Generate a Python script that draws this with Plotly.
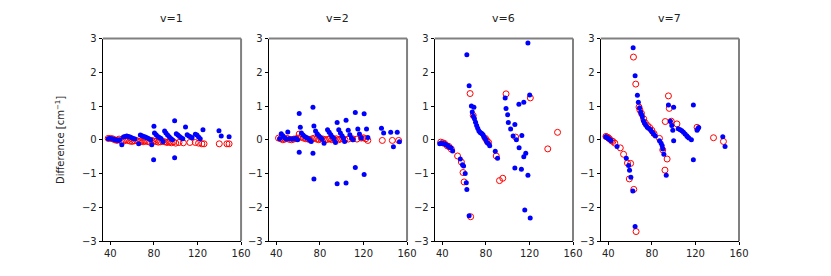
import plotly.graph_objects as go

titles = ["v=1", "v=2", "v=6", "v=7"]
x_ticks = [40, 80, 120, 160]
y_ticks = [-3, -2, -1, 0, 1, 2, 3]

# ---- v=1 ----
v1_blue_x = [38, 39.5, 41, 42.5, 44, 45.5, 47, 48.5, 50.5,
             52, 53.5, 55, 56.5, 58, 59.5, 61, 62.5, 66,
             67.5, 69, 70.5, 72, 73.5, 75, 77, 78,
             80, 80.5, 82, 83.5, 85, 86.5, 79.7,
             88.3, 89.8, 91, 92.5, 94, 95.5, 97,
             99, 99, 100.5, 102, 103.5, 105, 106.5,
             109, 110.5, 112, 113.5, 115,
             118, 119.5, 121, 122.5, 125,
             139.7, 141.8, 149]
v1_blue_y = [0.03, 0.04, 0.03, 0.02, 0.0, -0.01, -0.02, 0.0, -0.15,
             0.08, 0.1, 0.11, 0.1, 0.08, 0.06, 0.04, 0.02, -0.12,
             0.14, 0.12, 0.1, 0.08, 0.06, 0.04, 0.0, -0.15,
             0.40, 0.2, 0.15, 0.1, 0.07, 0.04, -0.59,
             -0.05, 0.26, 0.2, 0.14, 0.09, 0.04, 0.0,
             0.56, -0.53, 0.18, 0.14, 0.1, 0.06, 0.03,
             0.38, 0.15, 0.11, 0.09, 0.06,
             0.16, 0.14, 0.08, 0.03, 0.30,
             0.27, 0.11, 0.09]
v1_red_x = [38, 40, 42, 44, 46, 48, 50, 52, 54, 56, 58, 60, 62, 64, 66, 68, 70,
            72, 74, 76, 78, 80, 82, 84, 86, 88, 90, 92, 94, 96, 98, 100, 103,
            107, 113, 118, 121, 124, 126, 140, 147, 149]
v1_red_y = [0.04, 0.04, 0.03, 0.0, -0.02, 0.02, -0.03, -0.04, -0.01, -0.02,
            -0.04, -0.05, -0.03, -0.02, -0.05, -0.04, -0.06, -0.04, -0.05, -0.07,
            -0.02, -0.04, -0.05, -0.07, -0.06, -0.05, -0.06, -0.08, -0.07, -0.09,
            -0.06, -0.1, -0.08, -0.09, -0.08, -0.08, -0.1, -0.12, -0.12, -0.12,
            -0.12, -0.12]

# ---- v=2 ----
v2_blue_x = [43, 44.5, 46, 47.5, 49, 50.5, 52, 54, 56, 58, 59.5,
             61, 61, 62, 63, 64.5, 66, 67.5, 69, 70.5, 72,
             73.6, 73.6, 74.5, 74.5, 76, 77.5, 79, 80.5, 82, 83.8,
             87, 88.5, 90, 91.5, 93, 94.3,
             95.8, 95.8, 97.3, 98.8, 100.3, 101.5, 102.7,
             104, 104, 106, 107.5, 109, 110.5,
             112.5, 112.5, 114.8, 116.3, 118,
             120.6, 120.6, 122.8, 124,
             136.5, 138.5, 145, 147.5, 151, 153]
v2_blue_y = [0.03, 0.18, 0.12, 0.06, 0.02, 0.23, 0.03, 0.02, 0.03, 0.04, 0.0,
             0.78, -0.37, 0.37, 0.2, 0.14, 0.1, 0.07, 0.04, 0.0, -0.05,
             0.96, -0.40, -1.16, 0.41, 0.26, 0.18, 0.12, 0.07, 0.02, -0.1,
             0.30, 0.22, 0.15, 0.08, 0.02, -0.08,
             0.51, -1.30, 0.30, 0.2, 0.12, 0.05, -0.05,
             0.58, -1.28, 0.28, 0.15, 0.05, 0.0,
             0.81, -0.82, 0.32, 0.17, 0.05,
             0.77, -1.03, 0.32, 0.07,
             0.34, 0.2, 0.22, -0.21, 0.22, -0.06]
v2_red_x = [42, 44, 46, 48, 50, 52, 54, 56, 58, 60, 61, 63, 65, 67, 69, 71, 73,
            75, 77, 79, 81, 83, 85, 87, 89, 91, 93, 95, 97, 99, 101, 103, 106,
            110, 114, 118, 120, 122, 124, 137.3, 146.5, 152.3]
v2_red_y = [0.05, 0.03, 0.0, 0.02, 0.04, 0.01, 0.0, 0.02, 0.03, 0.05, 0.17,
            0.08, 0.05, 0.03, 0.02, 0.0, 0.03, 0.05, 0.02, 0.0, 0.03, 0.02, 0.0,
            0.01, 0.03, 0.0, 0.02, 0.03, 0.0, 0.02, 0.03, 0.0, 0.02, 0.03, 0.02,
            0.05, 0.06, 0.03, -0.02, -0.02, -0.02, -0.02]

# ---- v=6 ----
v6_blue_x = [37.6, 39, 40.5, 42, 43.5, 45, 46.5, 48, 49.5,
             56.5, 58.5, 59.5, 61, 62, 62.5,
             62.5, 64.6, 66.7, 69, 67.5, 68.5, 69.5, 70.5, 71.5, 72.5, 73.5,
             74.5, 75.5, 76.5, 77.5, 78, 79, 80, 81, 82.5, 83.5,
             64.6, 88.6, 90.7,
             97.7, 98.5, 100, 100.6, 102.7, 105, 106.6, 108,
             106.6, 112.6, 110.3, 114.8, 110.5, 113, 114.8, 116.6, 115.7,
             118.6, 118.6, 120.2, 120.7]
v6_blue_y = [-0.12, -0.10, -0.11, -0.12, -0.15, -0.18, -0.22, -0.24, -0.33,
             -0.57, -0.74, -0.78, -1.0, -1.27, -1.47,
             2.52, 1.60, 1.0, 0.96, 0.82, 0.7, 0.62, 0.52, 0.42, 0.34, 0.27,
             0.22, 0.2, 0.18, 0.14, 0.09, 0.05, 0.0, -0.08, -0.12, -0.18,
             -2.25, -0.34, -0.55,
             1.24, 0.93, 0.74, 0.51, 0.32, 0.11, 0.45, 0.0,
             -0.84, -0.87, 1.05, 1.11, -0.24, 0.13, -0.50, -0.40, -2.08,
             2.87, -1.05, 1.33, -2.32]
v6_red_x = [38.5, 40.5, 42, 44.5, 46, 48.3, 54, 57.5, 59, 60, 65.5, 68.4, 66,
            79.6, 81, 82.5, 89.5, 92.5, 95.5, 98.5, 107.3, 120.8, 136.8, 145.8]
v6_red_y = [-0.07, -0.09, -0.11, -0.18, -0.2, -0.28, -0.48, -0.66, -0.97, -1.25,
            1.37, 0.72, -2.28, 0.04, -0.03, -0.08, -0.48, -1.21, -1.14, 1.36,
            0.08, 1.24, -0.27, 0.22]

# ---- v=7 ----
v7_blue_x = [37.6, 38.5, 39.5, 40.5, 41.5, 42.5, 48, 56.5, 58.6, 59.5, 60.7,
             62.5, 64.6,
             62.8, 64.6, 66.7, 67.6, 68.7, 69.7, 70.5, 71.3, 72.2, 73.3, 74.3,
             75.8, 77, 78.7, 80, 81.5, 83.2, 87, 88.5, 89.5, 90, 91, 93.2,
             95.2, 100, 98.3, 97, 99.2, 100, 104.2, 106, 107.5, 109, 110.5, 112,
             112.7, 114, 116.3, 118.1, 118.1, 121.5, 122.2, 123, 145.1, 147.2]
v7_blue_y = [0.09, 0.07, 0.05, 0.02, 0.0, -0.03, -0.2, -0.55, -0.76, -0.9, -1.11,
             -1.52, -2.57,
             2.73, 1.9, 1.32, 1.11, 0.95, 0.82, 0.75, 0.68, 0.56, 0.5, 0.44,
             0.37, 0.34, 0.30, 0.24, 0.18, 0.11, -0.03, -0.1, -0.18, -0.27, -0.43,
             -1.05,
             1.03, 0.96, 0.42, 0.55, 0.28, -0.03, 0.33, 0.3, 0.27, 0.22, 0.17, 0.12,
             0.09, 0.05, 0.0, 1.03, -0.59, 0.28, 0.33, 0.36, 0.09, -0.2]
v7_red_x = [37.8, 39, 40, 41, 43, 44.2, 46, 51, 54, 57.6, 59.3, 60.5, 63.4, 65.5,
            63.1, 65.2, 68.2, 69, 70.5, 72.5, 74, 76, 78, 80, 82, 87, 90, 92, 94,
            95.2, 96, 92.3, 97.8, 103, 121.5, 136.6, 145.7]
v7_red_y = [0.1, 0.08, 0.06, 0.03, -0.03, -0.05, -0.1, -0.24, -0.43, -0.69, -1.16,
            -0.70, -1.47, -2.72,
            2.45, 1.65, 0.97, 0.88, 0.78, 0.62, 0.5, 0.42, 0.36, 0.28, 0.18, 0.04,
            -0.3, -0.9, -0.57, 1.30, 0.93, 0.54, 0.55, 0.47, 0.37, 0.06, -0.05]

blue_x = [v1_blue_x, v2_blue_x, v6_blue_x, v7_blue_x]
blue_y = [v1_blue_y, v2_blue_y, v6_blue_y, v7_blue_y]
red_x = [v1_red_x, v2_red_x, v6_red_x, v7_red_x]
red_y = [v1_red_y, v2_red_y, v6_red_y, v7_red_y]

W, H = 831, 276
lefts = [104, 272, 440, 608]
pw = 140
top_px, bot_px = 34, 245.7

fig = go.Figure()
font = dict(family="DejaVu Sans", size=10, color="#222222")

for i in range(4):
    xa = "x" if i == 0 else f"x{i+1}"
    ya = "y" if i == 0 else f"y{i+1}"
    n = min(len(red_x[i]), len(red_y[i]))
    fig.add_trace(go.Scatter(x=red_x[i][:n], y=red_y[i][:n], mode="markers",
                             xaxis=xa, yaxis=ya, showlegend=False,
                             marker=dict(symbol="circle-open", size=6, color="red",
                                         line=dict(width=1, color="red"))))
    n = min(len(blue_x[i]), len(blue_y[i]))
    fig.add_trace(go.Scatter(x=blue_x[i][:n], y=blue_y[i][:n], mode="markers",
                             xaxis=xa, yaxis=ya, showlegend=False,
                             marker=dict(symbol="circle", size=5, color="blue",
                                         line=dict(width=0))))
    d0 = lefts[i] / W
    d1 = (lefts[i] + pw) / W
    axx = dict(domain=[d0, d1], range=[33, 160], tickmode="array",
               tickvals=x_ticks, ticktext=[str(t) for t in x_ticks],
               showgrid=False, zeroline=False, showline=True, linecolor="#000000",
               linewidth=1, ticks="outside", ticklen=3, tickcolor="#000000",
               tickfont=font, anchor=ya, fixedrange=True)
    axy = dict(domain=[1 - bot_px / H, 1 - top_px / H], range=[-3, 3],
               tickmode="array", tickvals=y_ticks,
               ticktext=[("\u2212" + str(-t)) if t < 0 else str(t) for t in y_ticks],
               showgrid=False, zeroline=False, showline=True, linecolor="#000000",
               linewidth=1, ticks="outside", ticklen=3, tickcolor="#000000",
               tickfont=font, anchor=xa, fixedrange=True)
    key = "" if i == 0 else str(i + 1)
    fig.layout["xaxis" + key] = axx
    fig.layout["yaxis" + key] = axy
    # gray top and right frame
    fig.add_shape(type="line", xref=f"{xa} domain", yref=f"{ya} domain",
                  x0=0, x1=1, y0=1, y1=1, line=dict(color="#808080", width=2))
    fig.add_shape(type="line", xref=f"{xa} domain", yref=f"{ya} domain",
                  x0=1, x1=1, y0=0, y1=1, line=dict(color="#808080", width=2))
    fig.add_annotation(text=titles[i], xref="paper", yref="paper",
                       x=(lefts[i] + pw / 2) / W, y=1 - 13 / H, showarrow=False,
                       font=dict(family="DejaVu Sans", size=11, color="#222222"),
                       xanchor="center", yanchor="middle")

fig.add_annotation(text="Difference [cm<sup>\u22121</sup>]", xref="paper", yref="paper",
                   x=60 / W, y=1 - 139.8 / H, showarrow=False, textangle=-90,
                   font=dict(family="DejaVu Sans", size=10, color="#222222"),
                   xanchor="center", yanchor="middle")

fig.update_layout(width=W, height=H, margin=dict(l=0, r=0, t=0, b=0),
                  paper_bgcolor="white", plot_bgcolor="white", hovermode=False)

fig.write_html("out.html", config={"displayModeBar": False, "staticPlot": True},
               post_script="document.body.style.margin='0';document.body.style.overflow='hidden';")
